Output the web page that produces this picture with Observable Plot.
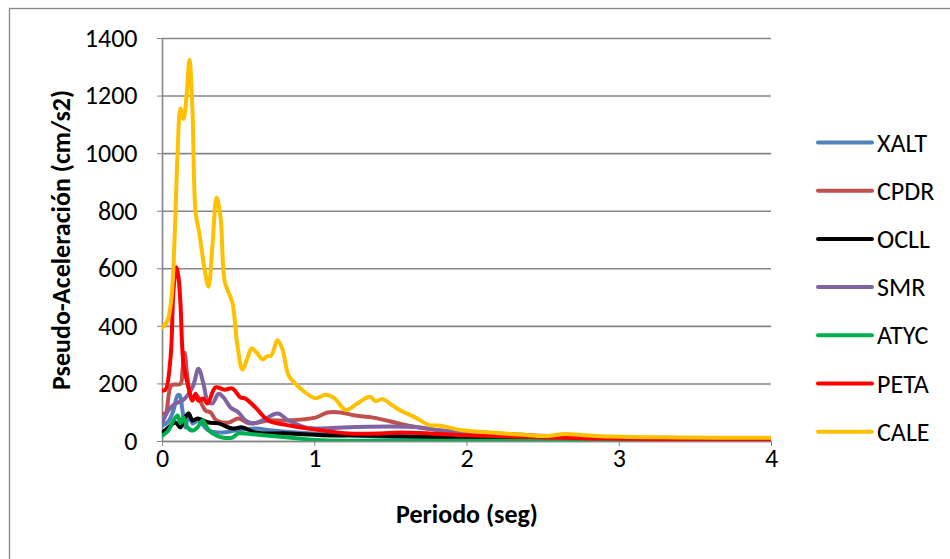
<!DOCTYPE html>
<html>
<head>
<meta charset="utf-8">
<script src="https://cdn.jsdelivr.net/npm/d3@7"></script>
<script src="https://cdn.jsdelivr.net/npm/@observablehq/plot@0.6"></script>
<style>
  html, body { margin: 0; padding: 0; background: #fff; }
  #chart { position: relative; width: 950px; height: 559px; overflow: hidden; }
</style>
</head>
<body>
<div id="chart"></div>
<script>
// ---- data (period in s, pseudo-acceleration in cm/s2) ----
const seriesNames = ["XALT", "CPDR", "OCLL", "SMR", "ATYC", "PETA", "CALE"];
const seriesColors = ["#4F81BD", "#C0504D", "#000000", "#8064A2", "#00B050", "#FF0000", "#FFC000"];

const XALT_t = [0, 0.039, 0.072, 0.099, 0.112, 0.131, 0.151, 0.171, 0.197, 0.236, 0.302, 0.394, 0.479, 0.611, 0.722, 0.906, 1.169, 1.563, 2.22, 2.877, 4];
const XALT_v = [56, 70, 108, 160, 162, 108, 49, 97, 63, 73, 38, 31, 38, 45, 38, 30, 22, 15, 10, 7, 5];

const CPDR_t = [0, 0.02, 0.059, 0.118, 0.131, 0.145, 0.164, 0.19, 0.223, 0.282, 0.315, 0.355, 0.433, 0.499, 0.565, 0.631, 0.696, 0.808, 1.005, 1.084, 1.169, 1.268, 1.386, 1.609, 1.826, 2.089, 2.483, 2.877, 3.534, 4];
const CPDR_v = [97, 97, 195, 200, 247, 309, 222, 153, 160, 108, 101, 73, 66, 80, 63, 66, 73, 73, 83, 101, 101, 90, 83, 56, 38, 31, 20, 14, 10, 9];

const OCLL_t = [0, 0.039, 0.085, 0.118, 0.138, 0.171, 0.197, 0.23, 0.302, 0.368, 0.46, 0.525, 0.611, 0.828, 1.051, 1.333, 1.563, 2.089, 2.877, 4];
const OCLL_v = [31, 49, 66, 49, 73, 97, 73, 80, 66, 63, 45, 49, 31, 28, 22, 21, 18, 12, 8, 6];

const SMR_t = [0, 0.039, 0.085, 0.131, 0.197, 0.236, 0.269, 0.296, 0.328, 0.368, 0.401, 0.447, 0.499, 0.545, 0.591, 0.657, 0.755, 0.828, 0.939, 1.051, 1.182, 1.695, 1.826, 2.089, 2.483, 2.877, 3.534, 4];
const SMR_v = [66, 108, 132, 142, 188, 253, 201, 142, 132, 166, 153, 118, 101, 73, 63, 73, 97, 73, 49, 45, 49, 49, 38, 31, 16, 12, 9, 8];

const ATYC_t = [0, 0.039, 0.072, 0.099, 0.118, 0.138, 0.164, 0.197, 0.23, 0.263, 0.296, 0.328, 0.394, 0.46, 0.499, 0.611, 0.828, 1.051, 1.563, 4];
const ATYC_v = [21, 38, 73, 90, 63, 83, 49, 38, 49, 73, 45, 28, 14, 14, 28, 24, 14, 4, 3, 2];

const PETA_t = [0, 0.02, 0.053, 0.072, 0.09, 0.105, 0.118, 0.138, 0.171, 0.197, 0.217, 0.236, 0.269, 0.296, 0.348, 0.407, 0.46, 0.512, 0.545, 0.611, 0.696, 0.828, 1.051, 1.222, 1.432, 1.563, 2.023, 2.483, 2.877, 3.534, 4];
const PETA_v = [177, 180, 292, 524, 605, 570, 480, 270, 188, 142, 166, 142, 149, 132, 188, 180, 184, 153, 149, 118, 73, 56, 38, 28, 28, 31, 21, 15, 10, 8, 7];

const CALE_t = [0, 0.033, 0.059, 0.079, 0.099, 0.118, 0.138, 0.158, 0.177, 0.197, 0.217, 0.243, 0.276, 0.302, 0.328, 0.355, 0.381, 0.407, 0.433, 0.46, 0.493, 0.525, 0.558, 0.585, 0.617, 0.657, 0.683, 0.716, 0.755, 0.788, 0.828, 0.874, 0.939, 1.005, 1.071, 1.13, 1.202, 1.274, 1.333, 1.366, 1.399, 1.445, 1.511, 1.563, 1.662, 1.747, 1.826, 1.957, 2.154, 2.351, 2.516, 2.647, 2.746, 2.943, 3.402, 4];
const CALE_v = [396, 420, 500, 700, 1000, 1157, 1120, 1200, 1326, 1150, 800, 720, 600, 538, 680, 848, 780, 560, 519, 480, 330, 250, 290, 323, 310, 285, 295, 300, 352, 320, 230, 200, 170, 150, 162, 150, 110, 130, 150, 155, 140, 148, 125, 108, 83, 58, 55, 40, 31, 24, 19, 26, 23, 17, 14, 13];

const xTicks = [0, 1, 2, 3, 4];
const yTicks = [0, 200, 400, 600, 800, 1000, 1200, 1400];
const xTitle = "Periodo (seg)";
const yTitle = "Pseudo-Aceleración (cm/s2)";

// ---- build table ----
const seriesT = {XALT: XALT_t, CPDR: CPDR_t, OCLL: OCLL_t, SMR: SMR_t, ATYC: ATYC_t, PETA: PETA_t, CALE: CALE_t};
const seriesV = {XALT: XALT_v, CPDR: CPDR_v, OCLL: OCLL_v, SMR: SMR_v, ATYC: ATYC_v, PETA: PETA_v, CALE: CALE_v};
const rows = [];
for (const name of seriesNames) {
  seriesT[name].forEach((t, i) => rows.push({series: name, t, v: seriesV[name][i]}));
}

const FONT = "Carlito, Calibri, Lato, 'Open Sans', sans-serif";
const GRID = "#868686";
const FS = 26;
const LW = 4;

const lineMarks = seriesNames.map((name, i) =>
  Plot.line(rows.filter(d => d.series === name), {
    x: "t", y: "v", stroke: seriesColors[i], strokeWidth: LW,
    curve: "catmull-rom", clip: true
  })
);

const plot = Plot.plot({
  width: 950,
  height: 559,
  marginLeft: 162,
  marginRight: 179,
  marginTop: 38,
  marginBottom: 118,
  style: {fontFamily: FONT, fontSize: FS + "px", color: "#000", background: "#fff"},
  x: {domain: [0, 4], ticks: xTicks},
  y: {domain: [0, 1400], ticks: yTicks},
  marks: [
    Plot.gridY(yTicks, {stroke: GRID, strokeOpacity: 1, strokeWidth: 1.6}),
    Plot.axisY(yTicks, {tickSize: 5, tickPadding: 20, stroke: GRID, fill: "#000", fontSize: FS, tickFormat: d => String(d), label: null}),
    Plot.axisX(xTicks, {tickSize: 5, tickPadding: 2, stroke: GRID, fill: "#000", fontSize: FS, tickFormat: d => String(d), label: null}),
    Plot.ruleX([0], {stroke: GRID, strokeWidth: 1.6}),
    Plot.ruleY([0], {stroke: GRID, strokeWidth: 1.6}),
    ...lineMarks,
    Plot.text([yTitle], {text: d => d, frameAnchor: "left", textAnchor: "middle", rotate: -90, dx: -101, dy: 0, fontWeight: "bold", fontSize: FS, fill: "#000"}),
    Plot.text([xTitle], {text: d => d, frameAnchor: "bottom", textAnchor: "middle", dy: 81, fontWeight: "bold", fontSize: FS, fill: "#000"})
  ]
});

document.getElementById("chart").appendChild(plot);

// outer chart border (top and left visible)
const svg = d3.select(plot);
svg.insert("rect", ":first-child")
  .attr("x", 9.5).attr("y", 8.5).attr("width", 1000).attr("height", 1000)
  .attr("fill", "none").attr("stroke", GRID).attr("stroke-width", 1.3);

// legend
const lg = svg.append("g").attr("font-family", FONT).attr("font-size", FS).attr("text-anchor", "start");
const legendTop = 142.5, legendStep = 48.2;
seriesNames.forEach((name, i) => {
  const y = legendTop + i * legendStep;
  lg.append("line").attr("x1", 818).attr("x2", 872).attr("y1", y).attr("y2", y)
    .attr("stroke", seriesColors[i]).attr("stroke-width", LW).attr("stroke-linecap", "round");
  lg.append("text").attr("x", 877).attr("y", y).attr("dy", "0.35em").attr("fill", "#000").text(name);
});
</script>
</body>
</html>
